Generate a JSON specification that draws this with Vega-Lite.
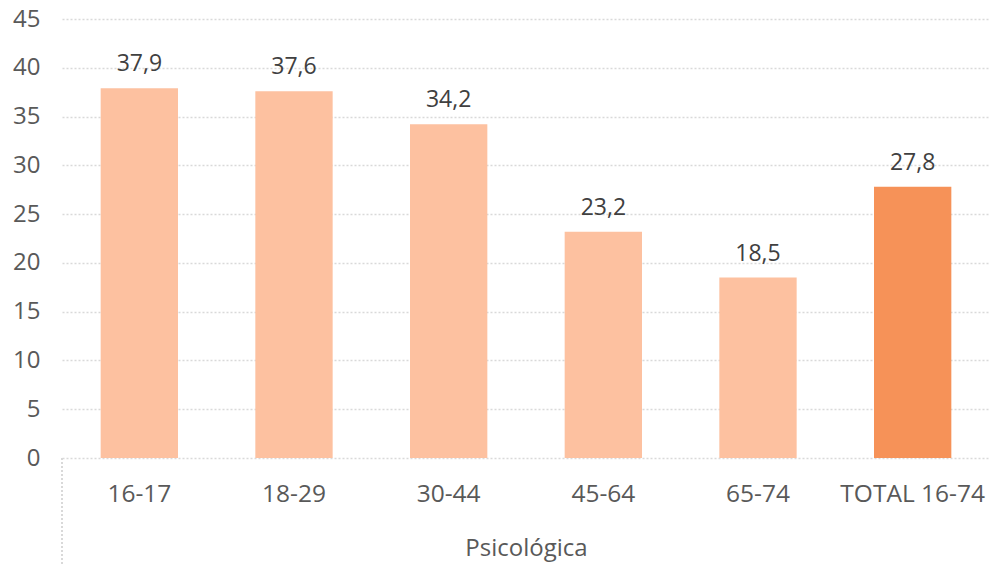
{
  "$schema": "https://vega.github.io/schema/vega-lite/v6.json",
  "autosize": "none",
  "width": 928,
  "height": 439,
  "padding": {"left": 62, "top": 19, "right": 0, "bottom": 108},
  "background": "white",
  "config": {
    "view": {"stroke": null},
    "font": "Open Sans",
    "locale": {"number": {"decimal": ",", "thousands": ".", "grouping": [3], "currency": ["", " €"]}}
  },
  "data": {
    "values": [
      {"grupo": "16-17", "valor": 37.9},
      {"grupo": "18-29", "valor": 37.6},
      {"grupo": "30-44", "valor": 34.2},
      {"grupo": "45-64", "valor": 23.2},
      {"grupo": "65-74", "valor": 18.5},
      {"grupo": "TOTAL 16-74", "valor": 27.8}
    ]
  },
  "encoding": {
    "x": {
      "field": "grupo",
      "type": "nominal",
      "sort": null,
      "scale": {"paddingInner": 0.5, "paddingOuter": 0.25},
      "axis": {
        "title": "Psicológica",
        "titleFont": "Open Sans",
        "titleFontSize": 24,
        "titleFontWeight": "normal",
        "titleColor": "#595959",
        "titlePadding": 31,
        "labelAngle": 0,
        "labelFontSize": 24.5,
        "labelColor": "#595959",
        "labelPadding": 24,
        "domain": false,
        "ticks": false,
        "grid": false
      }
    }
  },
  "layer": [
    {
      "mark": {"type": "bar"},
      "encoding": {
        "y": {
          "field": "valor",
          "type": "quantitative",
          "scale": {"domain": [0, 45]},
          "axis": {
            "title": null,
            "values": [0, 5, 10, 15, 20, 25, 30, 35, 40, 45],
            "domain": false,
            "ticks": false,
            "labelFontSize": 24,
            "labelColor": "#595959",
            "labelPadding": 22,
            "gridColor": "#D9D9D9",
            "gridDash": [2, 2],
            "gridWidth": 1.5
          }
        },
        "fill": {
          "condition": {"test": "datum.grupo === 'TOTAL 16-74'", "value": "#F69258"},
          "value": "#FDC1A0"
        }
      }
    },
    {
      "mark": {"type": "text", "baseline": "alphabetic", "dy": -17, "fontSize": 23, "color": "#404040"},
      "encoding": {
        "y": {"field": "valor", "type": "quantitative"},
        "text": {"field": "valor", "type": "quantitative", "format": ".1f"}
      }
    },
    {
      "mark": {"type": "rule", "color": "#D9D9D9", "strokeDash": [2, 2], "strokeWidth": 1.5, "clip": false},
      "encoding": {
        "x": {"datum": "16-17", "bandPosition": -0.5},
        "y": {"datum": 0},
        "y2": {"datum": -11.2}
      }
    }
  ]
}
